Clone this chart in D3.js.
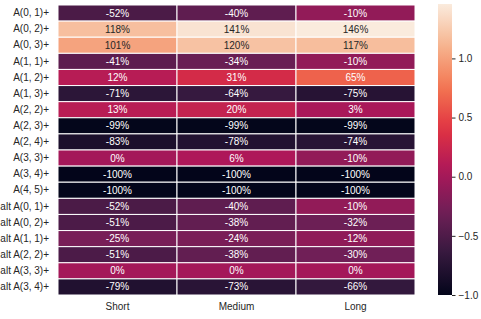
<!DOCTYPE html>
<html>
<head>
<meta charset="utf-8">
<script src="https://cdn.jsdelivr.net/npm/d3@7"></script>
<style>
  body { margin: 0; background: #fff; }
  text { font-family: "Liberation Sans", Arial, sans-serif; }
</style>
</head>
<body>
<div id="chart"></div>
<script>
var rows = ['A(0, 1)+', 'A(0, 2)+', 'A(0, 3)+', 'A(1, 1)+', 'A(1, 2)+', 'A(1, 3)+',
    'A(2, 2)+', 'A(2, 3)+', 'A(2, 4)+', 'A(3, 3)+', 'A(3, 4)+', 'A(4, 5)+',
    'alt A(0, 1)+', 'alt A(0, 2)+', 'alt A(1, 1)+', 'alt A(2, 2)+', 'alt A(3, 3)+', 'alt A(3, 4)+'];
var columns = ['Short', 'Medium', 'Long'];

// percent change per row, one list per column
var shortVals  = [-52, 118, 101, -41, 12, -71, 13, -99, -83, 0, -100, -100, -52, -51, -25, -51, 0, -79];
var mediumVals = [-40, 141, 120, -34, 31, -64, 20, -99, -78, 6, -100, -100, -40, -38, -24, -38, 0, -73];
var longVals   = [-10, 146, 117, -10, 65, -75, 3, -99, -74, -10, -100, -100, -10, -32, -12, -30, 0, -66];

var colorTicks = [-1.0, -0.5, 0.0, 0.5, 1.0];
var vmin = -1.0, vmax = 1.46;

// seaborn "rocket" approximated by sampled stops
var rocketStops = ['#03051a', '#35193e', '#701f57', '#ad1759', '#e13342', '#f37651', '#f6b48f', '#faebdd'];
var rocket = d3.scaleLinear()
    .domain(rocketStops.map((c, i) => i / (rocketStops.length - 1)))
    .range(rocketStops)
    .interpolate(d3.interpolateRgb);

var width = 481, height = 319;
var margin = {top: 5, left: 58, right: 66, bottom: 24};

var svg = d3.select('#chart').append('svg')
    .attr('width', width)
    .attr('height', height);

var x = d3.scaleBand().domain(columns).range([margin.left, 415]);
var y = d3.scaleBand().domain(rows).range([margin.top, 295]);
var norm = d3.scaleLinear().domain([vmin, vmax]).range([0, 1]).clamp(true);

var cells = [];
var series = [shortVals, mediumVals, longVals];
rows.forEach((r, i) => {
    columns.forEach((c, j) => {
        cells.push({row: r, col: c, value: series[j][i] / 100});
    });
});

function textColor(c) {
    var rgb = d3.rgb(c);
    var lin = v => { v /= 255; return v <= 0.03928 ? v / 12.92 : Math.pow((v + 0.055) / 1.055, 2.4); };
    var lum = 0.2126 * lin(rgb.r) + 0.7152 * lin(rgb.g) + 0.0722 * lin(rgb.b);
    return lum > 0.408 ? '#262626' : '#ffffff';
}

var g = svg.append('g');

g.selectAll('rect.cell')
    .data(cells)
    .enter()
    .append('rect')
    .attr('class', 'cell')
    .attr('x', d => x(d.col))
    .attr('y', d => y(d.row))
    .attr('width', x.bandwidth())
    .attr('height', y.bandwidth())
    .attr('fill', d => rocket(norm(d.value)))
    .attr('stroke', '#fff')
    .attr('stroke-width', 1);

g.selectAll('text.annot')
    .data(cells)
    .enter()
    .append('text')
    .attr('class', 'annot')
    .attr('x', d => x(d.col) + x.bandwidth() / 2)
    .attr('y', d => y(d.row) + y.bandwidth() / 2)
    .attr('dy', '0.35em')
    .attr('text-anchor', 'middle')
    .style('font-size', '10px')
    .attr('fill', d => textColor(rocket(norm(d.value))))
    .text(d => Math.round(d.value * 100) + '%');

// axes
var yAxis = svg.append('g')
    .attr('transform', `translate(${margin.left},0)`)
    .call(d3.axisLeft(y).tickSize(0).tickPadding(9));
yAxis.select('.domain').remove();
yAxis.selectAll('text').style('font-size', '10px').attr('fill', '#262626');

var xAxis = svg.append('g')
    .attr('transform', 'translate(0,295)')
    .call(d3.axisBottom(x).tickSize(0).tickPadding(8));
xAxis.select('.domain').remove();
xAxis.selectAll('text').style('font-size', '10px').attr('fill', '#262626');

// colorbar
var cbX = 438, cbW = 14;
var cy = d3.scaleLinear().domain([vmin, vmax]).range([295, 4]);

var grad = svg.append('defs').append('linearGradient')
    .attr('id', 'cbgrad')
    .attr('x1', 0).attr('y1', 1).attr('x2', 0).attr('y2', 0);
d3.range(0, 1.0001, 0.05).forEach(t => {
    grad.append('stop').attr('offset', t).attr('stop-color', rocket(t));
});

svg.append('rect')
    .attr('x', cbX)
    .attr('y', cy(vmax))
    .attr('width', cbW)
    .attr('height', cy(vmin) - cy(vmax))
    .attr('fill', 'url(#cbgrad)');

var cAxis = svg.append('g')
    .attr('transform', `translate(${cbX + cbW},0)`)
    .call(d3.axisRight(cy).tickValues(colorTicks).tickSize(3.5).tickPadding(3)
        .tickFormat(d => d3.format('.1f')(d).replace('-', '\u2212')));
cAxis.select('.domain').remove();
cAxis.selectAll('line').attr('stroke', '#262626');
cAxis.selectAll('text').style('font-size', '10px').attr('fill', '#262626');
</script>
</body>
</html>
